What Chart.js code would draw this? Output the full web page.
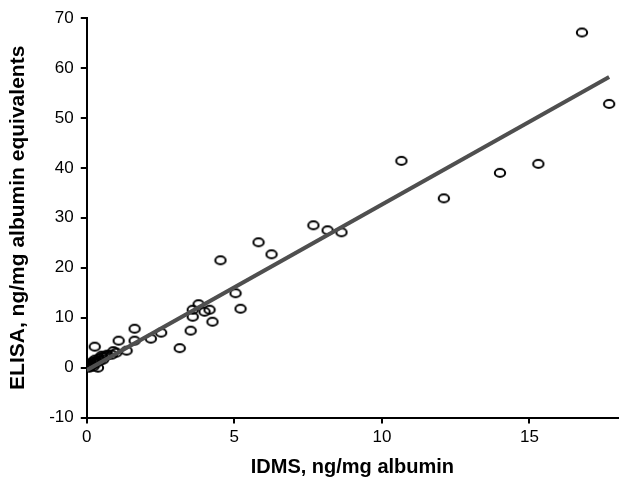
<!DOCTYPE html>
<html>
<head>
<meta charset="utf-8">
<script src="https://cdn.jsdelivr.net/npm/chart.js@4"></script>
<style>
  html, body { margin: 0; padding: 0; background: #fff; }
  #wrap { width: 623px; height: 479px; }
</style>
</head>
<body>
<div id="wrap"><canvas id="myChart" width="623" height="479"></canvas></div>
<script>
// measured samples (x = IDMS, y = ELISA)
const idms = [16.78, 17.7, 10.66, 12.1, 14.0, 15.3,
  7.68, 8.16, 8.63, 5.82, 6.26, 4.53,
  5.04, 5.21, 4.26, 3.52, 3.79, 3.59, 3.59, 3.99, 4.16, 3.15,
  1.62, 1.08, 1.62, 2.17, 2.52, 1.35,
  0.27, 0.68, 0.5, 0.85, 1.0, 0.9,
  0.02, 0.03, 0.05, 0.06, 0.08, 0.1, 0.12, 0.15, 0.18, 0.2, 0.22, 0.25,
  0.28, 0.3, 0.35, 0.38, 0.4, 0.45, 0.5, 0.55, 0.6, 0.7]
const elisa = [67.1, 52.8, 41.4, 33.9, 39.0, 40.8,
  28.5, 27.5, 27.1, 25.1, 22.7, 21.5,
  14.9, 11.8, 9.2, 7.4, 12.7, 11.6, 10.2, 11.2, 11.6, 3.9,
  7.8, 5.4, 5.4, 5.8, 7.0, 3.4,
  4.2, 2.4, 2.4, 2.6, 3.0, 3.3,
  0.1, 0.3, 0.2, 0.5, 0.0, 0.6, 0.3, 0.9, 0.5, 1.2, 0.2, 1.0,
  1.6, 0.8, 1.3, 0.0, 1.8, 1.4, 2.1, 1.6, 2.2, 2.6]

// regression line end points
const fitX = [0, 17.7]
const fitY = [-0.5, 58.2]

const xTicks = [0, 5, 10, 15]
const yTicks = [-10, 0, 10, 20, 30, 40, 50, 60, 70]

// hollow ellipse marker
function makeMarker() {
    const c = document.createElement('canvas')
    c.width = 14
    c.height = 12
    const g = c.getContext('2d')
    g.strokeStyle = '#000'
    g.lineWidth = 2
    g.beginPath()
    g.ellipse(7, 6, 5.2, 4, 0, 0, Math.PI * 2)
    g.stroke()
    return c
}

const points = idms.map((x, i) => ({ x: x, y: elisa[i] }))
const fitLine = fitX.map((x, i) => ({ x: x, y: fitY[i] }))

const fam = "'Liberation Sans', Arial, sans-serif"
const font = { family: fam, size: 17 }

const ctx = document.getElementById('myChart').getContext('2d')
new Chart(ctx, {
    type: 'scatter',
    data: {
        datasets: [{
            label: 'fit',
            type: 'line',
            data: fitLine,
            borderColor: '#4f4f4f',
            borderWidth: 4,
            pointRadius: 0,
            fill: false,
            order: 0
        }, {
            label: 'samples',
            data: points,
            pointStyle: makeMarker(),
            order: 1
        }]
    },
    options: {
        responsive: false,
        animation: false,
        layout: { padding: { top: 18, right: 3, left: 6, bottom: 0 } },
        plugins: { legend: { display: false }, tooltip: { enabled: false } },
        scales: {
            x: {
                type: 'linear',
                min: 0,
                max: 18,
                afterBuildTicks: scale => { scale.ticks = xTicks.map(v => ({ value: v })) },
                grid: { drawOnChartArea: false, tickLength: 6, color: '#000', lineWidth: 2 },
                border: { color: '#000', width: 2 },
                ticks: { color: '#000', font: font, padding: 4, maxRotation: 0 },
                title: { display: true, text: 'IDMS, ng/mg albumin', color: '#000',
                    font: { family: fam, size: 20, weight: 'bold' }, padding: { top: 3, bottom: 0 } }
            },
            y: {
                type: 'linear',
                min: -10,
                max: 70,
                afterBuildTicks: scale => { scale.ticks = yTicks.map(v => ({ value: v })) },
                grid: { drawOnChartArea: false, tickLength: 6, color: '#000', lineWidth: 2 },
                border: { color: '#000', width: 2 },
                ticks: { color: '#000', font: font, padding: 7 },
                title: { display: true, text: 'ELISA, ng/mg albumin equivalents', color: '#000',
                    font: { family: fam, size: 21, weight: 'bold' }, padding: { top: 0, bottom: 11 } }
            }
        }
    }
})
</script>
</body>
</html>
